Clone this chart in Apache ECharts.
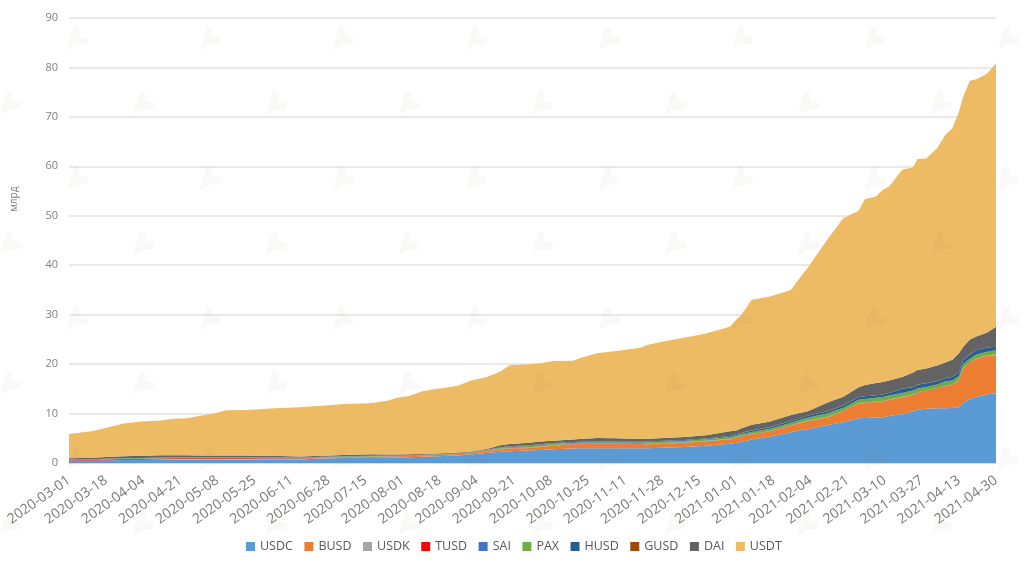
<!DOCTYPE html>
<html>
<head>
<meta charset="utf-8">
<style>
  html, body { margin: 0; padding: 0; background: #fff; }
  #chart { width: 1024px; height: 564px; }
</style>
<script src="https://cdn.jsdelivr.net/npm/echarts@6/dist/echarts.min.js"></script>
</head>
<body>
<div id="chart"></div>
<script>
"use strict";

var tickDates = ["2020-03-01", "2020-03-18", "2020-04-04", "2020-04-21", "2020-05-08", "2020-05-25", "2020-06-11", "2020-06-28", "2020-07-15", "2020-08-01", "2020-08-18", "2020-09-04", "2020-09-21", "2020-10-08", "2020-10-25", "2020-11-11", "2020-11-28", "2020-12-15", "2021-01-01", "2021-01-18", "2021-02-04", "2021-02-21", "2021-03-10", "2021-03-27", "2021-04-13", "2021-04-30"];

// days since 2020-03-01
var days = [0, 11, 19, 25, 33, 42, 48, 54, 60, 66, 72, 82, 92, 106, 116, 126, 138, 146, 150, 156, 162, 169, 178, 184, 192, 198, 202, 211, 216, 222, 231, 234, 242, 251, 262, 265, 273, 282, 292, 303, 306, 308, 313, 321, 331, 335, 339, 348, 355, 362, 365, 370, 373, 376, 382, 387, 389, 393, 398, 402, 405, 408, 410, 413, 416, 421, 425];

var usdc = [0.45, 0.5, 0.55, 0.6, 0.6, 0.65, 0.65, 0.65, 0.65, 0.65, 0.65, 0.65, 0.7, 0.72, 0.92, 1.0, 1.02, 1.05, 1.05, 1.15, 1.25, 1.35, 1.5, 1.7, 2.05, 2.3, 2.4, 2.55, 2.65, 2.8, 2.95, 2.98, 3.0, 3.0, 2.97, 3.0, 3.1, 3.25, 3.5, 3.9, 4.1, 4.25, 4.75, 5.3, 6.2, 6.6, 6.9, 7.7, 8.3, 9.04, 9.1, 9.2, 9.25, 9.5, 9.9, 10.4, 10.8, 10.95, 11.05, 11.08, 11.1, 11.3, 12.3, 12.9, 13.4, 13.9, 14.1];
var busd = [0, 0, 0, 0.02, 0.05, 0.1, 0.12, 0.12, 0.12, 0.12, 0.12, 0.12, 0.12, 0.08, 0.1, 0.12, 0.2, 0.2, 0.2, 0.2, 0.2, 0.2, 0.25, 0.25, 0.4, 0.5, 0.5, 0.5, 0.6, 0.75, 0.8, 0.8, 0.78, 0.78, 0.8, 0.8, 0.85, 0.85, 0.9, 0.9, 1.0, 1.05, 1.0, 1.05, 1.35, 1.45, 1.6, 1.55, 2.2, 3.0, 3.05, 3.15, 3.2, 3.25, 3.4, 3.4, 3.4, 3.6, 4.05, 4.5, 4.7, 5.4, 6.8, 7.3, 7.7, 7.8, 7.75];
var usdk = [0.03, 0.03, 0.03, 0.03, 0.03, 0.03, 0.03, 0.03, 0.03, 0.03, 0.03, 0.03, 0.03, 0.03, 0.03, 0.03, 0.03, 0.03, 0.03, 0.03, 0.03, 0.03, 0.03, 0.03, 0.03, 0.03, 0.03, 0.03, 0.03, 0.03, 0.03, 0.03, 0.03, 0.03, 0.03, 0.03, 0.03, 0.03, 0.03, 0.03, 0.03, 0.03, 0.03, 0.03, 0.03, 0.03, 0.03, 0.03, 0.03, 0.03, 0.03, 0.03, 0.03, 0.03, 0.03, 0.03, 0.03, 0.03, 0.03, 0.03, 0.03, 0.03, 0.03, 0.03, 0.03, 0.03, 0.03];
var tusd = [0.1, 0.1, 0.15, 0.15, 0.15, 0.15, 0.15, 0.15, 0.15, 0.15, 0.15, 0.15, 0.12, 0.1, 0.05, 0.04, 0.04, 0.04, 0.04, 0.04, 0.04, 0.04, 0.04, 0.04, 0.04, 0.04, 0.04, 0.04, 0.04, 0.04, 0.04, 0.04, 0.04, 0.04, 0.04, 0.04, 0.04, 0.04, 0.04, 0.04, 0.04, 0.04, 0.04, 0.04, 0.04, 0.04, 0.04, 0.04, 0.04, 0.04, 0.04, 0.04, 0.04, 0.04, 0.04, 0.04, 0.04, 0.04, 0.04, 0.04, 0.04, 0.04, 0.04, 0.04, 0.04, 0.04, 0.04];
var sai = [0.02, 0.02, 0.02, 0.02, 0.02, 0.02, 0.02, 0.02, 0.02, 0.02, 0.02, 0.02, 0.02, 0.02, 0.02, 0.02, 0.02, 0.02, 0.02, 0.02, 0.02, 0.02, 0.02, 0.02, 0.02, 0.02, 0.02, 0.02, 0.02, 0.02, 0.02, 0.02, 0.02, 0.02, 0.02, 0.02, 0.02, 0.02, 0.02, 0.02, 0.02, 0.02, 0.02, 0.02, 0.02, 0.02, 0.02, 0.02, 0.02, 0.02, 0.02, 0.02, 0.02, 0.02, 0.02, 0.02, 0.02, 0.02, 0.02, 0.02, 0.02, 0.02, 0.02, 0.02, 0.02, 0.02, 0.02];
var pax = [0.05, 0.08, 0.1, 0.1, 0.12, 0.12, 0.12, 0.12, 0.12, 0.12, 0.12, 0.12, 0.12, 0.12, 0.1, 0.12, 0.12, 0.1, 0.1, 0.08, 0.08, 0.08, 0.08, 0.08, 0.1, 0.2, 0.25, 0.3, 0.3, 0.25, 0.28, 0.3, 0.3, 0.3, 0.3, 0.3, 0.3, 0.3, 0.3, 0.35, 0.4, 0.4, 0.45, 0.45, 0.5, 0.55, 0.6, 0.7, 0.6, 0.65, 0.7, 0.75, 0.8, 0.8, 0.75, 0.75, 0.8, 0.75, 0.7, 0.85, 0.8, 0.8, 0.8, 0.8, 0.75, 0.7, 0.85];
var husd = [0.02, 0.02, 0.02, 0.02, 0.02, 0.02, 0.02, 0.02, 0.02, 0.02, 0.02, 0.02, 0.02, 0.03, 0.03, 0.03, 0.03, 0.03, 0.03, 0.03, 0.03, 0.03, 0.03, 0.03, 0.05, 0.08, 0.1, 0.1, 0.12, 0.12, 0.12, 0.12, 0.15, 0.15, 0.12, 0.12, 0.15, 0.15, 0.15, 0.2, 0.25, 0.25, 0.3, 0.3, 0.35, 0.4, 0.4, 0.45, 0.45, 0.55, 0.55, 0.5, 0.5, 0.5, 0.9, 0.7, 0.75, 0.75, 0.65, 0.65, 0.7, 0.75, 0.8, 0.85, 0.85, 0.85, 0.7];
var gusd = [0.03, 0.03, 0.03, 0.03, 0.03, 0.03, 0.03, 0.03, 0.03, 0.03, 0.03, 0.03, 0.03, 0.03, 0.03, 0.03, 0.03, 0.03, 0.03, 0.03, 0.03, 0.03, 0.03, 0.03, 0.03, 0.03, 0.03, 0.03, 0.03, 0.03, 0.03, 0.03, 0.03, 0.03, 0.03, 0.03, 0.03, 0.03, 0.03, 0.03, 0.03, 0.03, 0.03, 0.03, 0.03, 0.03, 0.03, 0.03, 0.03, 0.03, 0.03, 0.03, 0.03, 0.03, 0.03, 0.03, 0.03, 0.03, 0.03, 0.03, 0.03, 0.03, 0.03, 0.03, 0.03, 0.03, 0.03];
var dai = [0.25, 0.27, 0.35, 0.38, 0.43, 0.43, 0.41, 0.41, 0.36, 0.36, 0.36, 0.36, 0.29, 0.17, 0.2, 0.21, 0.26, 0.22, 0.2, 0.17, 0.14, 0.12, 0.12, 0.12, 0.18, 0.45, 0.48, 0.53, 0.56, 0.46, 0.48, 0.53, 0.7, 0.65, 0.54, 0.56, 0.53, 0.58, 0.63, 0.93, 0.7, 0.9, 1.1, 1.13, 1.18, 0.98, 0.88, 1.78, 1.73, 1.94, 2.28, 2.48, 2.53, 2.53, 2.33, 2.93, 2.93, 2.93, 3.13, 3.2, 3.48, 3.83, 2.68, 3.03, 2.78, 3.03, 4.05];
var usdt = [4.92, 5.4, 6.1, 6.65, 6.95, 7.05, 7.42, 7.48, 8.07, 8.47, 9.15, 9.2, 9.55, 9.96, 10.12, 10.33, 10.32, 10.88, 11.45, 11.8, 12.68, 13.1, 13.47, 14.35, 14.56, 14.89, 15.9, 15.86, 15.81, 16.13, 15.95, 16.32, 17.15, 17.65, 18.45, 18.97, 19.55, 20.1, 20.6, 21.17, 22.43, 22.83, 25.28, 25.25, 25.3, 27.3, 29.2, 33.1, 36.1, 35.7, 37.6, 37.7, 38.8, 39.2, 41.9, 41.5, 42.7, 42.5, 43.95, 46.1, 46.8, 48.85, 50.6, 52.3, 52.0, 52.4, 53.28];

var names = ["USDC", "BUSD", "USDK", "TUSD", "SAI", "PAX", "HUSD", "GUSD", "DAI", "USDT"];
var values = [usdc, busd, usdk, tusd, sai, pax, husd, gusd, dai, usdt];
var colors = ["#5b9bd5", "#ed7d31", "#a5a5a5", "#ff0000", "#4472c4", "#70ad47", "#255e91", "#9e480e", "#636363", "#ecbb64"];

var fontName = "Open Sans";

// background logo, repeated over the page in staggered rows
var logoRowsA = [38, 178, 318, 458];
var logoRowsB = [103, 243, 383, 523];
var logoColsA = [77, 210, 343, 476, 609, 742, 875, 1008];
var logoColsB = [10, 143, 276, 409, 542, 675, 808, 941];
var logoPoints = [[-3, -12], [2, -10], [2, -2], [11, 0], [10, 6], [-1, 7], [-10, 12], [-7, 0]];

var overlay = [];
function addLogos(rows, cols) {
    rows.forEach(function (y) {
        cols.forEach(function (x) {
            overlay.push({
                type: "polygon",
                x: x,
                y: y,
                z: 100,
                silent: true,
                shape: { points: logoPoints },
                style: { fill: "rgba(130,120,100,0.045)" }
            });
        });
    });
}
addLogos(logoRowsA, logoColsA);
addLogos(logoRowsB, logoColsB);

overlay.push({
    type: "text",
    x: 14,
    y: 199,
    rotation: Math.PI / 2,
    style: {
        text: "млрд",
        fill: "#7f7f7f",
        font: "10px '" + fontName + "'",
        textAlign: "center",
        textVerticalAlign: "middle"
    }
});

var chart = echarts.init(document.getElementById("chart"), null, { renderer: "canvas" });

chart.setOption({
    animation: false,
    backgroundColor: "#fff",
    color: colors,
    graphic: overlay,
    legend: {
        data: names,
        left: 241,
        top: 535,
        icon: "rect",
        itemWidth: 9,
        itemHeight: 9,
        itemGap: 11.5,
        textStyle: { color: "#595959", fontSize: 12.5, fontFamily: fontName }
    },
    grid: {
        left: 69,
        right: 28,
        top: 18,
        bottom: 101
    },
    xAxis: {
        type: "value",
        min: 0,
        max: 425,
        interval: 17,
        axisLine: { show: true, onZero: false, lineStyle: { color: "#d4dbe3", width: 1.5 } },
        axisTick: { show: false },
        splitLine: { show: false },
        axisLabel: {
            rotate: 35,
            margin: 16,
            color: "#7a7a7a",
            fontSize: 14,
            fontFamily: fontName,
            hideOverlap: false,
            showMinLabel: true,
            showMaxLabel: true,
            formatter: function (value) {
                return tickDates[value / 17];
            }
        }
    },
    yAxis: {
        type: "value",
        min: 0,
        max: 90,
        interval: 10,
        axisLine: { show: false },
        axisTick: { show: false },
        splitLine: { lineStyle: { color: "#e2e2e2", width: 1.5 } },
        axisLabel: {
            margin: 11,
            color: "#7f7f7f",
            fontSize: 11,
            fontFamily: fontName
        }
    },
    series: names.map(function (name, i) {
        return {
            name: name,
            type: "line",
            stack: "total",
            showSymbol: false,
            lineStyle: { width: 0 },
            areaStyle: { color: colors[i], opacity: 1 },
            // value first: ECharts stacks the first numeric column
            encode: { x: 1, y: 0 },
            data: values[i].map(function (v, k) {
                return [v, days[k]];
            })
        };
    })
});
</script>
</body>
</html>
